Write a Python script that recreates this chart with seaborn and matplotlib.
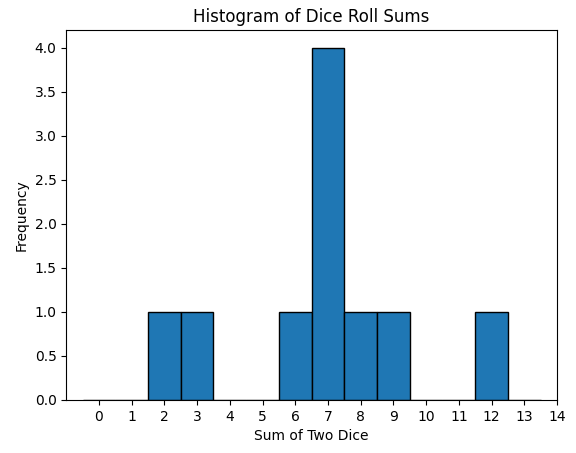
import matplotlib
matplotlib.use('Agg')
import matplotlib.pyplot as plt
import numpy as np
import seaborn as sns

# sums of two dice
roll_sums = [2, 3, 6, 7, 7, 7, 7, 8, 9, 12]
bin_edges = np.arange(-0.5, 14.5, 1)
tick_vals = list(range(0, 15))

fig, ax = plt.subplots(figsize=(5.76, 4.53), dpi=100)
fig.subplots_adjust(left=0.115, right=0.967, top=0.934, bottom=0.117)
sns.histplot(x=roll_sums, bins=bin_edges, color='#1f77b4', alpha=1,
             edgecolor='black', linewidth=1, ax=ax)
ax.set_xlim(-1, 14)
ax.set_ylim(0, 4.2)
ax.set_xticks(tick_vals)
ax.set_yticks(np.arange(0, 4.5, 0.5))
ax.set_yticklabels([f'{v:.1f}' for v in np.arange(0, 4.5, 0.5)])
ax.set_title('Histogram of Dice Roll Sums')
ax.set_xlabel('Sum of Two Dice')
ax.set_ylabel('Frequency')
plt.savefig('out.png', dpi=100)
